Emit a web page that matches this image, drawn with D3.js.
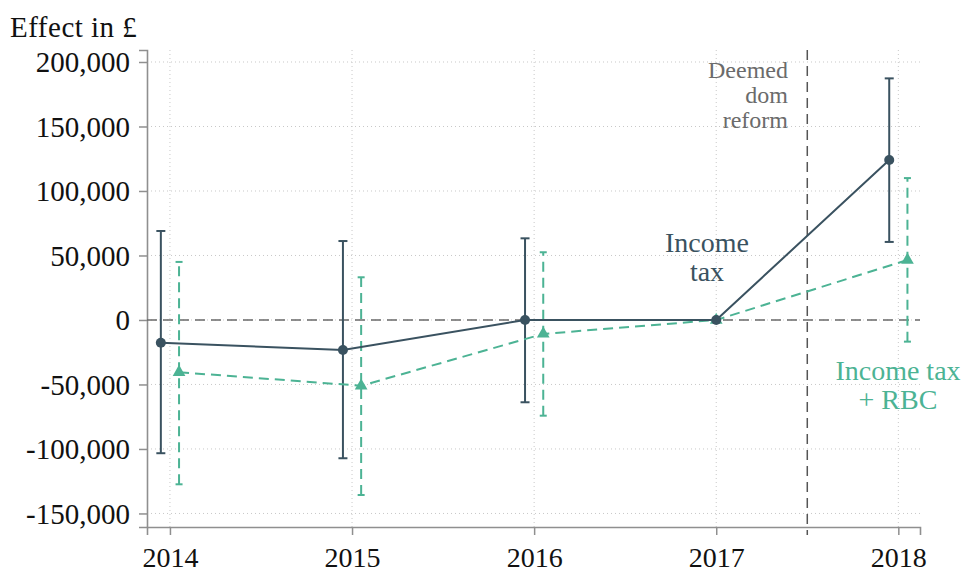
<!DOCTYPE html>
<html><head><meta charset="utf-8">
<script src="https://cdn.jsdelivr.net/npm/d3@7"></script>
<style>body{margin:0;background:#fff}svg{display:block}text{font-family:"Liberation Serif","Times New Roman",serif}</style>
</head><body><svg id="c" width="973" height="576"></svg>
<script>
const years = [2014, 2015, 2016, 2017, 2018];
const yTicks = [-150000, -100000, -50000, 0, 50000, 100000, 150000, 200000];
const incomeTax = [-17600, -23300, 0, 0, 124000];
const incomeTaxLo = [-103300, -107200, -63800, null, 60500];
const incomeTaxHi = [69000, 61200, 63300, null, 187300];
const rbc = [-40500, -51000, -10800, 0, 46500];
const rbcLo = [-127400, -135700, -74200, null, -16800];
const rbcHi = [45000, 33100, 52500, null, 110000];
const reformYear = 2017.5;
const dark = "#3a5260", green = "#4cb394";

const svg = d3.select("#c");
const x = d3.scaleLinear().domain([2013.874, 2018.119]).range([147, 920]);
const y = d3.scaleLinear().domain([-160500, 209300]).range([527, 50]);
const off = yr => yr === 2017 ? 0 : 0.05;

// grid
svg.append("g").selectAll("line").data(yTicks).join("line")
  .attr("x1", 147).attr("x2", 920).attr("y1", d => y(d)).attr("y2", d => y(d))
  .attr("stroke", "#c8c8c8").attr("stroke-width", 1).attr("stroke-dasharray", "1,3");
svg.append("g").selectAll("line").data(years).join("line")
  .attr("x1", d => x(d)).attr("x2", d => x(d)).attr("y1", 50).attr("y2", 527)
  .attr("stroke", "#c8c8c8").attr("stroke-width", 1).attr("stroke-dasharray", "1,3");

// axes
const yAxis = svg.append("g").attr("transform", "translate(147,0)")
  .call(d3.axisLeft(y).tickValues(yTicks).tickSize(8).tickPadding(9).tickFormat(d3.format(",")));
const xAxis = svg.append("g").attr("transform", "translate(0,527)")
  .call(d3.axisBottom(x).tickValues(years).tickSize(8).tickPadding(14).tickFormat(d3.format("d")));
[yAxis, xAxis].forEach(a => {
  a.select(".domain").attr("stroke", "#8f8f8f").attr("stroke-width", 1.6);
  a.selectAll(".tick line").attr("stroke", "#8f8f8f").attr("stroke-width", 1.5);
  a.selectAll("text").attr("fill", "#111").style("font-size", "29px");
});
yAxis.selectAll("text").attr("dy", "0.34em");
yAxis.selectAll("text").text(d => d3.format(",")(d).replace("−", "-"));
xAxis.selectAll("text").style("font-size", "28px").attr("dy", "0.66em");

// reference lines
svg.append("line").attr("x1", 147).attr("x2", 920).attr("y1", y(0)).attr("y2", y(0))
  .attr("stroke", "#6a6a6a").attr("stroke-width", 1.5).attr("stroke-dasharray", "10,6");
svg.append("line").attr("x1", x(reformYear)).attr("x2", x(reformYear)).attr("y1", 50).attr("y2", 535)
  .attr("stroke", "#555").attr("stroke-width", 1.5).attr("stroke-dasharray", "10,6");

// title
svg.append("text").attr("x", 10).attr("y", 37).style("font-size", "29px").style("letter-spacing", "0.5px")
  .attr("fill", "#111").text("Effect in £");

// Deemed dom reform label
const lab = svg.append("text").attr("text-anchor", "end").attr("fill", "#6b6b6b").style("font-size", "24px");
["Deemed", "dom", "reform"].forEach((t, i) => lab.append("tspan").attr("x", 788).attr("y", 78 + i * 25).text(t));

// series data
const s1 = years.map((yr, i) => ({yr, xv: yr - off(yr), v: incomeTax[i], lo: incomeTaxLo[i], hi: incomeTaxHi[i]}));
const s2 = years.map((yr, i) => ({yr, xv: yr + off(yr), v: rbc[i], lo: rbcLo[i], hi: rbcHi[i]}));

// CI green
const g2 = svg.append("g");
s2.filter(d => d.lo !== null).forEach(d => {
  g2.append("line").attr("x1", x(d.xv)).attr("x2", x(d.xv)).attr("y1", y(d.lo)).attr("y2", y(d.hi))
    .attr("stroke", green).attr("stroke-width", 2).attr("stroke-dasharray", "10,6");
  [d.lo, d.hi].forEach(v => g2.append("line").attr("x1", x(d.xv) - 3.5).attr("x2", x(d.xv) + 3.5)
    .attr("y1", y(v)).attr("y2", y(v)).attr("stroke", green).attr("stroke-width", 2));
});
// CI dark
const g1 = svg.append("g");
s1.filter(d => d.lo !== null).forEach(d => {
  g1.append("line").attr("x1", x(d.xv)).attr("x2", x(d.xv)).attr("y1", y(d.lo)).attr("y2", y(d.hi))
    .attr("stroke", dark).attr("stroke-width", 2);
  [d.lo, d.hi].forEach(v => g1.append("line").attr("x1", x(d.xv) - 4.5).attr("x2", x(d.xv) + 4.5)
    .attr("y1", y(v)).attr("y2", y(v)).attr("stroke", dark).attr("stroke-width", 2));
});

// lines
const line = d3.line().x(d => x(d.xv)).y(d => y(d.v));
svg.append("path").datum(s2).attr("d", line).attr("fill", "none").attr("stroke", green)
  .attr("stroke-width", 2).attr("stroke-dasharray", "10,6");
svg.append("path").datum(s1).attr("d", line).attr("fill", "none").attr("stroke", dark).attr("stroke-width", 2);

// markers
svg.append("g").selectAll("path").data(s2).join("path")
  .attr("d", d3.symbol().type(d3.symbolTriangle).size(70))
  .attr("transform", d => `translate(${x(d.xv)},${y(d.v)})`).attr("fill", green);
svg.append("g").selectAll("circle").data(s1).join("circle")
  .attr("cx", d => x(d.xv)).attr("cy", d => y(d.v)).attr("r", 5).attr("fill", dark);

// series labels
const l1 = svg.append("text").attr("text-anchor", "middle").attr("fill", dark).style("font-size", "28px");
["Income", "tax"].forEach((t, i) => l1.append("tspan").attr("x", 707).attr("y", 252 + i * 29).text(t));
const l2 = svg.append("text").attr("text-anchor", "middle").attr("fill", green).style("font-size", "28px");
["Income tax", "+ RBC"].forEach((t, i) => l2.append("tspan").attr("x", 898).attr("y", 380 + i * 29).text(t));
</script></body></html>
